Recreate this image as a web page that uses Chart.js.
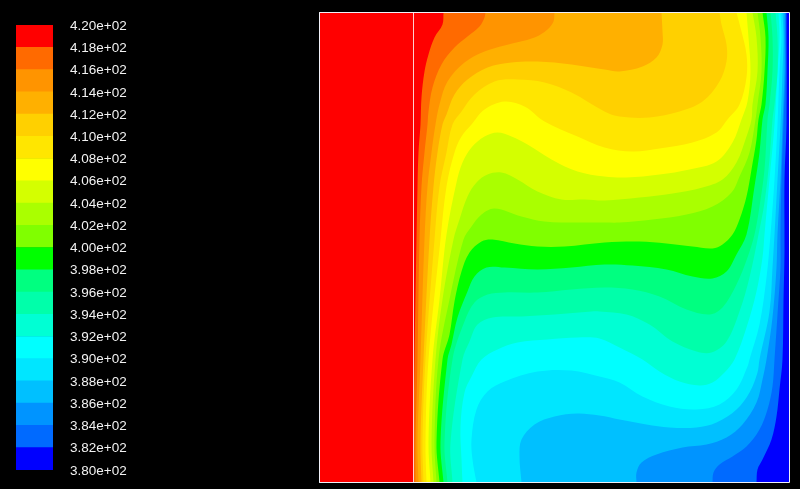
<!DOCTYPE html>
<html>
<head>
<meta charset="utf-8">
<script src="https://cdn.jsdelivr.net/npm/chart.js@4"></script>
<style>
html,body{margin:0;padding:0;background:#000;width:800px;height:489px;overflow:hidden}
canvas{position:absolute;left:0;top:0}
</style>
</head>
<body>
<canvas id="field" width="800" height="489"></canvas>
<canvas id="bar" width="140" height="495"></canvas>
<script>
// Contour levels (K), coldest to hottest, and the colour of the band that starts at each level
const levels = [380,382,384,386,388,390,392,394,396,398,400,402,404,406,408,410,412,414,416,418,420];
const bandColors = ['#0000ff','#006aff','#0094ff','#00c0ff','#00e6ff','#00ffff','#00ffd4','#00ffaa','#00ff80','#00ff00',
  '#80ff00','#aaff00','#d4ff00','#ffff00','#ffe600','#ffd000','#ffb000','#ff9400','#ff6a00','#ff0000'];
const domainSize = 470;
const wallX = 94;
// Iso-lines: flat x,y lists from the bottom wall to the top wall
const c380 = [470,0];
const c382 = [437,0,438,13,443,23,452,43,457,66,460,93,463,123,464,181,465,231,465,303,467,358,467,470];
const c384 = [393,0,394,10,400,18,413,26,427,36,440,53,448,73,453,96,455,123,458,168,461,215,461,248,462,303,464,358,466,411,466,445,466,470];
const c386 = [317,0,317,10,322,20,337,28,363,35,387,38,407,45,423,58,437,80,443,103,447,123,453,165,457,215,458,248,461,303,463,358,465,411,465,445,465,470];
const c388 = [202,0,200,26,202,43,215,58,235,66,258,69,280,67,300,63,327,58,350,55,377,55,397,60,417,73,430,90,438,110,440,123,450,171,453,215,455,248,458,303,461,358,463,411,464,445,463,470];
const c390 = [157,0,153,23,152,43,157,73,168,91,185,101,218,111,252,112,280,106,300,100,323,86,350,76,377,73,400,78,417,93,428,116,430,123,440,158,447,205,451,248,455,303,458,358,460,411,462,445,461,470];
const c392 = [143,0,142,23,141,56,145,90,152,106,162,123,178,133,198,140,228,143,258,145,280,144,300,135,323,123,340,111,360,101,380,97,393,100,405,110,415,123,427,155,437,191,443,225,445,248,450,303,455,358,458,411,460,445,459,470];
const c394 = [133,0,131,40,143,123,150,141,158,158,173,165,202,166,235,168,272,171,280,171,307,168,330,158,353,141,377,131,392,130,407,141,420,171,430,205,439,248,445,280,450,323,453,363,455,378,458,411,458,445,456,470];
const c396 = [128,0,125,40,133,123,145,161,155,180,168,188,185,190,218,190,252,193,285,195,313,193,340,186,367,173,390,168,403,175,417,198,428,225,435,248,440,276,445,313,448,363,450,378,453,411,453,445,451,470];
const c398 = [124,0,121,40,128,123,132,138,138,165,148,191,155,206,167,215,185,215,218,213,252,215,285,218,313,217,347,213,373,206,393,204,407,211,417,228,427,248,435,296,440,330,443,363,446,378,448,411,449,445,447,470];
const c400 = [120,0,117,40,123,123,130,148,135,181,142,211,150,230,162,241,173,243,195,239,218,236,245,236,285,240,320,241,347,239,373,236,393,234,403,238,413,248,420,263,427,286,432,313,437,343,439,363,442,378,445,411,446,445,443,470];
const c402 = [117,0,115,40,119,123,130,183,144,243,152,256,162,268,175,274,202,266,225,261,258,260,285,260,300,260,333,263,367,268,393,276,412,290,420,306,430,330,436,363,438,378,442,411,441,445,438,470];
const c404 = [114,0,112,40,116,123,123,183,134,243,140,263,148,286,157,300,168,308,182,310,198,303,218,291,242,283,265,283,285,282,320,285,353,289,383,295,403,303,417,320,427,346,432,363,433,378,438,411,437,445,433,470];
const c406 = [111,0,109,40,113,123,120,183,127,248,137,300,143,320,152,335,165,346,178,350,192,346,208,338,232,323,258,311,285,306,307,305,340,308,370,313,397,321,413,340,422,363,428,381,431,411,429,445,427,470];
const c408 = [107,0,106,40,109,123,121,243,127,296,135,330,142,346,152,358,165,373,185,381,205,376,225,361,258,346,285,335,313,331,340,334,373,340,397,350,408,363,420,378,427,405,427,428,422,451,417,470];
const c410 = [104,0,103,40,106,123,115,243,120,296,127,330,133,358,142,371,155,388,175,401,198,403,225,400,252,390,285,371,300,366,330,365,360,371,383,381,400,401,407,421,407,438,402,458,400,470];
const c412 = [102,0,101,40,104,123,110,243,114,296,118,330,123,358,127,368,135,388,148,403,168,415,192,420,218,421,252,418,285,413,300,411,323,416,337,425,343,438,343,451,342,470];
const c414 = [99,0,98,40,101,123,105,243,108,296,112,330,116,358,120,378,128,401,145,420,165,431,185,437,215,445,228,453,234,461,235,470];
const c416 = [96,0,96,40,98,123,100,243,102,296,105,330,108,358,109,371,113,395,122,418,135,435,148,446,160,456,165,465,166,470];
const c418 = [94,0,94,40,95,123,97,243,98,296,99,330,101,358,102,385,105,411,109,428,115,445,123,458,124,470];
const isoLines = [c380,c382,c384,c386,c388,c390,c392,c394,c396,c398,c400,c402,c404,c406,c408,c410,c412,c414,c416,c418];

// Each band is the area up and left of its iso-line; the wall points are doubled so smoothing keeps a sharp corner there.
function toPoints(flat){
  const pts=[{x:0,y:0},{x:0,y:0}];
  const n=flat.length;
  pts.push({x:flat[0],y:flat[1]});
  for(let i=0;i<n;i+=2) pts.push({x:flat[i],y:flat[i+1]});
  pts.push({x:flat[n-2],y:flat[n-1]});
  pts.push({x:domainSize,y:domainSize},{x:domainSize,y:domainSize});
  return pts;
}
const fieldSets = isoLines.map((line,i)=>({
  data: toPoints(line), showLine:true, fill:'end', tension:0.35, order:100-i,
  backgroundColor: bandColors[i], borderWidth:0, borderColor:'transparent', pointRadius:0
}));
fieldSets.push({data:[{x:wallX,y:0},{x:wallX,y:domainSize}],showLine:true,fill:false,order:1,
  borderColor:'#ffd0d0',borderWidth:1,pointRadius:0,clip:2});
fieldSets.push({data:[{x:0,y:0},{x:domainSize,y:0},{x:domainSize,y:domainSize},{x:0,y:domainSize},{x:0,y:0}],
  showLine:true,fill:false,order:0,borderColor:'#f0f0f8',borderWidth:1,pointRadius:0,clip:2});

new Chart(document.getElementById('field'),{
  type:'scatter',
  data:{datasets:fieldSets},
  options:{
    responsive:false,animation:false,
    layout:{padding:{left:319.5,right:10.5,top:12.5,bottom:6.5}},
    plugins:{legend:{display:false},tooltip:{enabled:false}},
    scales:{
      x:{type:'linear',min:0,max:domainSize,display:false},
      y:{type:'linear',min:0,max:domainSize,display:false}
    }
  }
});

const barSets = bandColors.map((c,i)=>({
  data:[[levels[i],levels[i+1]]], backgroundColor:c, borderWidth:0,
  barPercentage:1, categoryPercentage:1, grouped:false
}));
new Chart(document.getElementById('bar'),{
  type:'bar',
  data:{labels:['T'],datasets:barSets},
  options:{
    responsive:false,animation:false,
    layout:{padding:{left:16,right:0,top:25,bottom:12}},
    plugins:{legend:{display:false},tooltip:{enabled:false}},
    scales:{
      x:{display:false},
      y:{type:'linear',position:'right',min:380,max:420,
        afterFit(s){s.width=87;},
        grid:{display:false,drawTicks:false},border:{display:false},
        ticks:{stepSize:2,autoSkip:false,padding:17,labelOffset:1,color:'#f2f2f2',
          font:{family:'"Liberation Sans"',size:13.5},
          callback(v){return Number(v).toExponential(2).replace(/e\+(\d)$/,'e+0$1');}}
      }
    }
  }
});
</script>
</body>
</html>
